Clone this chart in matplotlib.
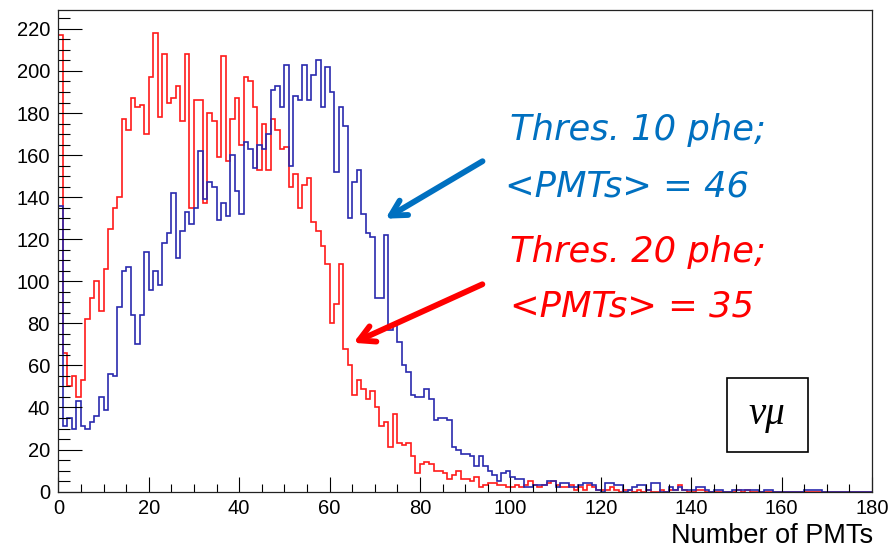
import numpy as np
import matplotlib
matplotlib.use('Agg')
import matplotlib.pyplot as plt
from matplotlib.ticker import MultipleLocator
from matplotlib.patches import Rectangle, FancyArrowPatch

# histogram binning: 180 bins of width 1 PMT
x_min, x_max, n_bins = 0, 180, 180

# threshold 20 phe (red), counts per bin
counts_thr20 = [
    217, 66, 50, 55, 45, 53, 82, 92, 100, 86,
    106, 125, 135, 140, 177, 172, 187, 183, 184, 170,
    197, 218, 178, 208, 185, 187, 193, 176, 208, 135,
    186, 186, 137, 180, 176, 159, 207, 157, 177, 187,
    165, 197, 195, 183, 153, 175, 153, 177, 172, 163,
    164, 145, 151, 135, 146, 149, 128, 124, 117, 108,
    80, 89, 108, 68, 60, 46, 53, 49, 44, 48,
    40, 31, 33, 21, 37, 23, 22, 23, 17, 9,
    13, 14, 13, 10, 10, 9, 6, 8, 10, 6,
    6, 5, 7, 2, 3, 4, 4, 3, 3, 2,
    2, 3, 2, 3, 5, 3, 2, 3, 4, 5,
    3, 2, 2, 3, 1, 2, 1, 3, 2, 1,
    1, 1, 2, 1, 0, 1, 1, 0, 1, 0,
    1, 0, 0, 1, 0, 1, 1, 3, 1, 0,
    0, 1, 1, 0, 0, 0, 0, 0, 0, 0,
    1, 0, 1, 0, 0, 0, 0, 0, 0, 0,
    0, 0, 0, 0, 0, 0, 0, 0, 0, 0,
    0, 0, 0, 0, 0, 0, 0, 0, 0, 0,
]

# threshold 10 phe (blue), counts per bin
counts_thr10 = [
    136, 31, 35, 30, 43, 31, 30, 33, 36, 45,
    39, 56, 55, 88, 105, 107, 84, 70, 84, 114,
    96, 105, 98, 118, 123, 142, 111, 124, 133, 127,
    135, 162, 139, 147, 145, 129, 137, 131, 160, 143,
    132, 166, 163, 154, 165, 163, 170, 191, 193, 183,
    203, 155, 188, 186, 203, 186, 198, 205, 183, 202,
    190, 152, 183, 174, 130, 147, 153, 132, 123, 121,
    92, 92, 122, 77, 79, 71, 60, 57, 46, 45,
    45, 49, 44, 34, 35, 35, 34, 21, 20, 18,
    18, 17, 12, 17, 12, 10, 8, 5, 9, 10,
    7, 6, 6, 2, 2, 3, 3, 3, 5, 5,
    2, 4, 4, 2, 2, 3, 4, 4, 3, 1,
    0, 4, 4, 3, 3, 0, 1, 2, 3, 3,
    1, 4, 4, 0, 0, 2, 1, 2, 1, 1,
    1, 2, 2, 1, 0, 1, 1, 0, 0, 1,
    1, 1, 1, 1, 1, 0, 1, 1, 0, 0,
    0, 0, 0, 0, 0, 1, 1, 1, 1, 0,
    0, 0, 0, 0, 0, 0, 0, 0, 0, 0,
]

label_thr10 = ["Thres. 10 phe;", "<PMTs> = 46"]
label_thr20 = ["Thres. 20 phe;", "<PMTs> = 35"]

edges = np.linspace(x_min, x_max, n_bins + 1)

fig = plt.figure(figsize=(8.93, 5.53), dpi=100)
ax = fig.add_axes([0.0653, 0.111, 0.9112, 0.871])

ax.stairs(counts_thr20, edges, color='#ff1a1a', lw=1.2, baseline=0)
ax.stairs(counts_thr10, edges, color='#2a2aae', lw=1.2, baseline=0)

ax.set_xlim(x_min, x_max)
ax.set_ylim(0, 229)

ax.xaxis.set_major_locator(MultipleLocator(20))
ax.xaxis.set_minor_locator(MultipleLocator(5))
ax.yaxis.set_major_locator(MultipleLocator(20))
ax.yaxis.set_minor_locator(MultipleLocator(5))
ax.tick_params(axis='x', which='major', direction='in', length=10.5, width=0.8, pad=5, labelsize=14.5)
ax.tick_params(axis='x', which='minor', direction='in', length=5.5, width=0.8)
ax.tick_params(axis='y', which='major', direction='in', length=17, width=0.8, pad=6, labelsize=14.5)
ax.tick_params(axis='y', which='minor', direction='in', length=8.5, width=0.8)
for lab in ax.get_xticklabels() + ax.get_yticklabels():
    lab.set_family('Liberation Sans')
for s in ax.spines.values():
    s.set_linewidth(0.9)
    s.set_color('#222222')

fig.text(0.978, 0.008, "Number of PMTs", ha='right', va='bottom', fontsize=19.5,
         family='Liberation Sans')

# annotations
txt_kw = dict(fontsize=25.5, style='italic', ha='left', va='center', family='DejaVu Sans')
fig.text(0.571, 0.765, label_thr10[0], color='#0070c0', **txt_kw)
fig.text(0.566, 0.662, label_thr10[1], color='#0070c0', **txt_kw)
fig.text(0.571, 0.544, label_thr20[0], color='#ff0000', **txt_kw)
fig.text(0.571, 0.445, label_thr20[1], color='#ff0000', **txt_kw)

arr_blue = FancyArrowPatch((0.543, 0.711), (0.429, 0.602), transform=fig.transFigure,
                           arrowstyle='->,head_length=11,head_width=6', lw=4.2,
                           color='#0070c0', mutation_scale=1)
arr_red = FancyArrowPatch((0.543, 0.488), (0.393, 0.378), transform=fig.transFigure,
                          arrowstyle='->,head_length=11,head_width=6', lw=4.2,
                          color='#ff0000', mutation_scale=1)
fig.patches.extend([arr_blue, arr_red])

box = Rectangle((0.814, 0.183), 0.0907, 0.134, transform=fig.transFigure,
                fc='white', ec='black', lw=1.2)
fig.patches.append(box)
fig.text(0.859, 0.250, "\u03bd\u03bc", fontsize=28, style='italic', ha='center', va='center',
         family='Liberation Serif')

fig.savefig('out.png', dpi=100)
